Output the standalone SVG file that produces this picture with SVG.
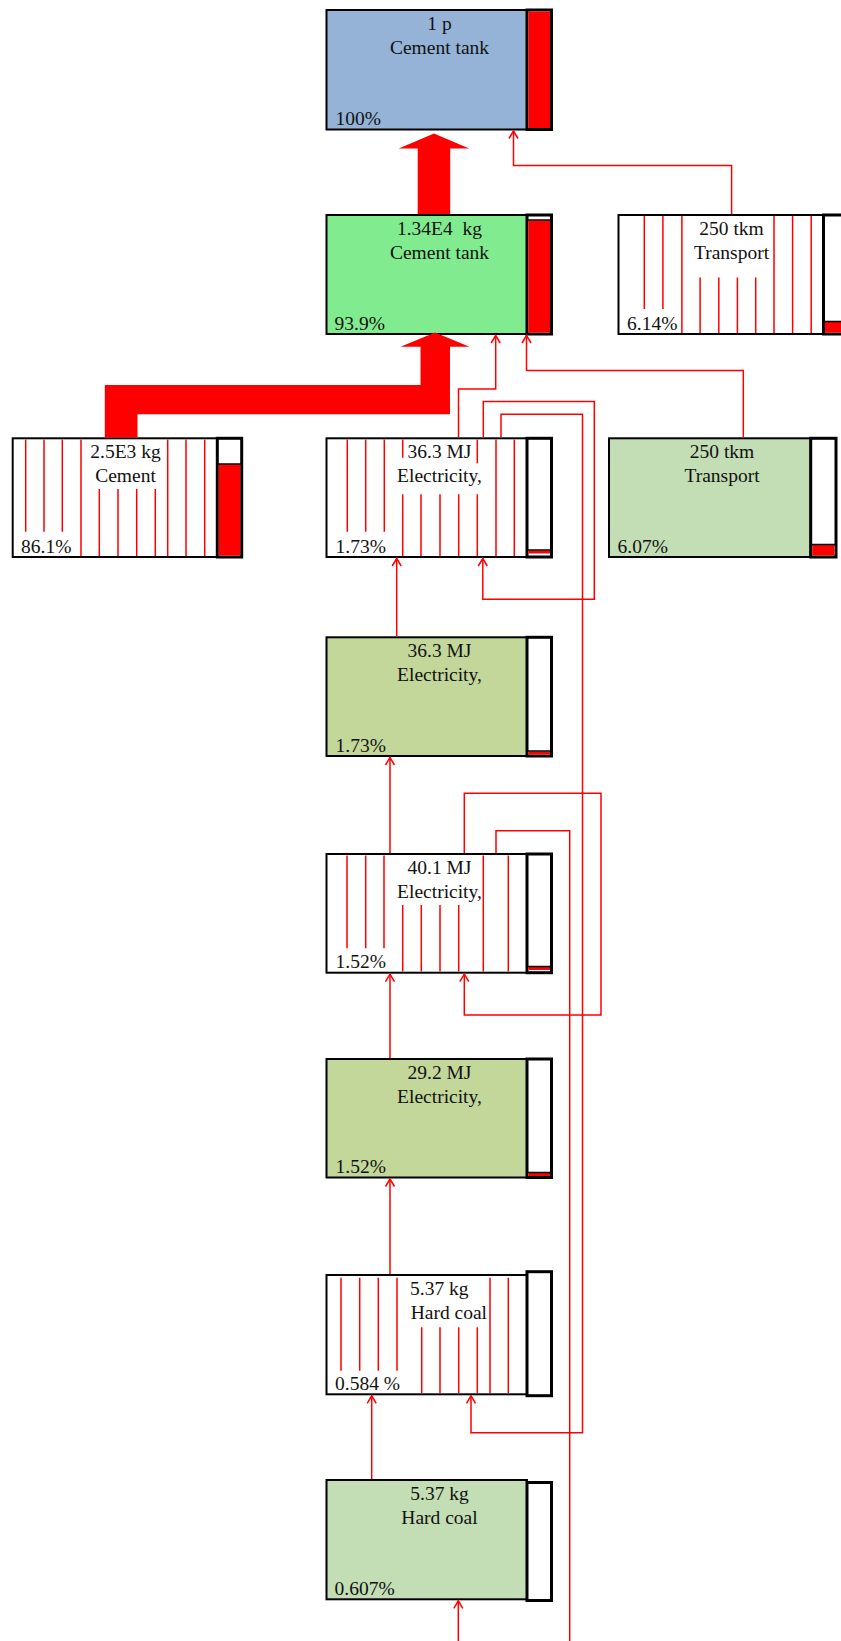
<svg xmlns="http://www.w3.org/2000/svg" width="841" height="1641" viewBox="0 0 841 1641">
<style>
.box{stroke:#000;stroke-width:2}
.bar{fill:#fff;stroke:#000;stroke-width:3}
.red{fill:#FF0000}
.sep{stroke:#000;stroke-width:1.5}
.hatch{stroke:#FF0000;stroke-width:1.5;fill:none}
.con{stroke:#FF0000;stroke-width:1.5;fill:none;marker-end:url(#ah)}
.line{stroke:#FF0000;stroke-width:1.5;fill:none}
.thick{fill:#FF0000;stroke:none}
text{font-family:"Liberation Serif","Times New Roman",serif;font-size:19.5px;fill:#111}
.c{text-anchor:middle}
.blue{fill:#95B3D7}
.bright{fill:#80EC8F}
.olive{fill:#C4D79B}
.pale{fill:#C3DDB4}
.white{fill:#fff}
</style>
<defs>
<marker id="ah" viewBox="-9 -6 11 12" refX="0" refY="0" markerWidth="11" markerHeight="12" orient="auto" markerUnits="userSpaceOnUse">
<path d="M-7.5,-4.5 L0,0 L-7.5,4.5" fill="none" stroke="#FF0000" stroke-width="1.5"/>
</marker>
</defs>

<!-- Node: 1 p Cement tank -->
<g id="n-cement-tank-1p">
<rect class="box blue" x="326.5" y="10" width="200.5" height="119.5"/>
<rect class="bar" x="527" y="10" width="24.5" height="119.5"/>
<rect class="red" x="528.5" y="11.5" width="21.5" height="116.5"/>
<text class="c" x="439.5" y="30">1 p</text>
<text class="c" x="439.5" y="54">Cement tank</text>
<text x="335.5" y="125">100%</text>
</g>

<!-- Node: 1.34E4 kg Cement tank -->
<g id="n-cement-tank-134">
<rect class="box bright" x="326.5" y="215" width="200.5" height="119"/>
<rect class="bar" x="527" y="215" width="24.5" height="119"/>
<rect class="red" x="528.5" y="220.5" width="21.5" height="112"/>
<line class="sep" x1="528" y1="220" x2="550.5" y2="220"/>
<text class="c" x="439.5" y="235" xml:space="preserve">1.34E4  kg</text>
<text class="c" x="439.5" y="259">Cement tank</text>
<text x="334.5" y="330">93.9%</text>
</g>

<!-- Node: 250 tkm Transport (top right) -->
<g id="n-transport-top">
<rect class="box white" x="618.5" y="215" width="205" height="119"/>
<path class="hatch" d="M644.3 216V309M662.9 216V309M681.9 216V333M700.1 277.5V333M718.8 277.5V333M737.4 277.5V333M755.7 277.5V333M774 216V333M792.6 216V333M811.2 216V333"/>
<rect class="bar" x="823.5" y="215" width="26" height="119"/>
<rect class="red" x="825" y="322" width="24" height="10.5"/>
<line class="sep" x1="824.5" y1="321.5" x2="849" y2="321.5"/>
<text class="c" x="731.5" y="235">250 tkm</text>
<text class="c" x="731.5" y="259">Transport</text>
<text x="627" y="330">6.14%</text>
</g>

<!-- Node: 2.5E3 kg Cement -->
<g id="n-cement">
<rect class="box white" x="12.7" y="438.3" width="204.6" height="118.7"/>
<path class="hatch" d="M25.7 439.5V531.7M44 439.5V531.7M62.3 439.5V531.7M81 439.5V556M99.3 489V556M118 489V556M136.7 489V556M155.3 489V556M167.7 439.5V556M186 439.5V556M204.7 439.5V556"/>
<rect class="bar" x="217.3" y="438.3" width="24.4" height="118.7"/>
<rect class="red" x="218.8" y="464" width="21.4" height="91.5"/>
<line class="sep" x1="218" y1="464" x2="241" y2="464"/>
<text class="c" x="125.5" y="458">2.5E3 kg</text>
<text class="c" x="125.5" y="481.5">Cement</text>
<text x="21" y="552.5">86.1%</text>
</g>

<!-- Node: 36.3 MJ Electricity, (hatched) -->
<g id="n-electricity-363-a">
<rect class="box white" x="326.5" y="438.3" width="200.5" height="118.7"/>
<path class="hatch" d="M347.3 439.5V531.7M365.7 439.5V531.7M384.3 439.5V531.7M402.7 439.5V457.7M402.7 494.3V556M421 494.3V556M440 494.3V556M458.7 494.3V556M477.3 439.5V463.3M477.3 494.3V556M496 439.5V556M514.3 439.5V556"/>
<rect class="bar" x="527" y="438.3" width="24.5" height="118.7"/>
<rect class="red" x="528.5" y="550.5" width="21.5" height="3"/>
<line class="sep" x1="528" y1="550" x2="550.5" y2="550"/>
<text class="c" x="439.5" y="457.5">36.3 MJ</text>
<text class="c" x="439.5" y="481.5">Electricity,</text>
<text x="335.5" y="552.5">1.73%</text>
</g>

<!-- Node: 250 tkm Transport (green) -->
<g id="n-transport-green">
<rect class="box pale" x="609" y="438.3" width="201.7" height="118.7"/>
<rect class="bar" x="810.7" y="438.3" width="25.3" height="118.7"/>
<rect class="red" x="812.2" y="545" width="22.3" height="10.5"/>
<line class="sep" x1="811.5" y1="544.5" x2="835" y2="544.5"/>
<text class="c" x="722" y="457.5">250 tkm</text>
<text class="c" x="722" y="481.5">Transport</text>
<text x="617.5" y="552.5">6.07%</text>
</g>

<!-- Node: 36.3 MJ Electricity, (green) -->
<g id="n-electricity-363-b">
<rect class="box olive" x="326.5" y="637.3" width="200.5" height="118.7"/>
<rect class="bar" x="527" y="637.3" width="24.5" height="118.7"/>
<rect class="red" x="528.5" y="751.5" width="21.5" height="3"/>
<line class="sep" x1="528" y1="751" x2="550.5" y2="751"/>
<text class="c" x="439.5" y="656.5">36.3 MJ</text>
<text class="c" x="439.5" y="680.5">Electricity,</text>
<text x="335.5" y="751.5">1.73%</text>
</g>

<!-- Node: 40.1 MJ Electricity, (hatched) -->
<g id="n-electricity-401">
<rect class="box white" x="326.5" y="854" width="200.5" height="118.7"/>
<path class="hatch" d="M347 855.5V948.3M365.7 855.5V948.3M384 855.5V948.3M402.7 905V971.5M421.3 905V971.5M440 905V971.5M458.7 905V971.5M483.3 855.5V971.5M508.3 855.5V971.5"/>
<rect class="bar" x="527" y="854" width="24.5" height="118.7"/>
<rect class="red" x="528.5" y="967" width="21.5" height="3"/>
<line class="sep" x1="528" y1="966.5" x2="550.5" y2="966.5"/>
<text class="c" x="439.5" y="873.5">40.1 MJ</text>
<text class="c" x="439.5" y="897.5">Electricity,</text>
<text x="335.5" y="968">1.52%</text>
</g>

<!-- Node: 29.2 MJ Electricity, (green) -->
<g id="n-electricity-292">
<rect class="box olive" x="326.5" y="1059" width="200.5" height="118.5"/>
<rect class="bar" x="527" y="1059" width="24.5" height="118.5"/>
<rect class="red" x="528.5" y="1173" width="21.5" height="3"/>
<line class="sep" x1="528" y1="1172.5" x2="550.5" y2="1172.5"/>
<text class="c" x="439.5" y="1078.5">29.2 MJ</text>
<text class="c" x="439.5" y="1102.5">Electricity,</text>
<text x="335.5" y="1173">1.52%</text>
</g>

<!-- Node: 5.37 kg Hard coal (hatched) -->
<g id="n-hard-coal-a">
<rect class="box white" x="326.5" y="1275" width="200.5" height="119.3"/>
<path class="hatch" d="M341 1277.7V1370.7M359.7 1277.7V1370.7M378.3 1277.7V1370.7M397 1277.7V1370.7M421.7 1327.3V1393M440 1327.3V1393M458.7 1327.3V1393M477.3 1327.3V1393M490 1277.7V1393M508.3 1277.7V1393"/>
<rect class="bar" x="527" y="1271.7" width="24.5" height="124"/>
<text x="410" y="1295">5.37 kg</text>
<text x="410.7" y="1318.5">Hard coal</text>
<text x="335" y="1389.5">0.584 %</text>
</g>

<!-- Node: 5.37 kg Hard coal (green) -->
<g id="n-hard-coal-b">
<rect class="box pale" x="326.5" y="1480" width="200.5" height="119.3"/>
<rect class="bar" x="527" y="1482.5" width="24.5" height="118"/>
<text class="c" x="439.5" y="1499.5">5.37 kg</text>
<text class="c" x="439.5" y="1523.5">Hard coal</text>
<text x="334.5" y="1595">0.607%</text>
</g>

<!-- Connectors -->
<g id="connectors">
<polygon class="thick" points="417.7,214 417.7,148.6 398.7,148.6 434,133.4 469.2,148.6 450.2,148.6 450.2,214"/>
<polygon class="thick" points="104.8,437.5 104.8,385 420.5,385 420.5,346.7 400.5,346.7 435,332.5 469.5,346.7 450,346.7 450,414.3 137.5,414.3 137.5,437.5"/>
<path class="con" d="M731.6 214V165.6H513.5V131"/>
<path class="con" d="M458.5 437.3V389H495.7V335.5"/>
<path class="con" d="M743.3 437.3V370.5H526.5V335.5"/>
<path class="con" d="M483.3 437.3V401.5H594.3V599.3H482.8V558.5"/>
<path class="con" d="M501 437.3V414.3H582.5V1432.7H471V1395.8"/>
<path class="con" d="M396.7 636.3V558.5"/>
<path class="con" d="M390 853V757.5"/>
<path class="con" d="M464.3 853V793.3H601V1015H464.3V974.2"/>
<path class="line" d="M496 853V830.7H569.7V1641"/>
<path class="con" d="M390 1058V974.2"/>
<path class="con" d="M390 1274V1179"/>
<path class="con" d="M371.7 1479V1395.8"/>
<path class="con" d="M458.3 1641V1600.8"/>
</g>
</svg>
